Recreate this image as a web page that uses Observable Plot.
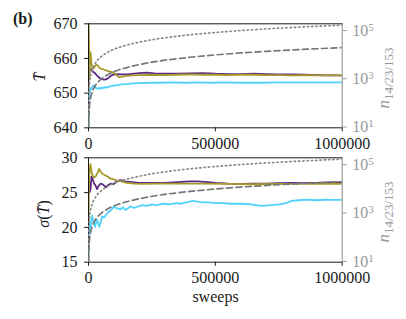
<!DOCTYPE html>
<html><head><meta charset="utf-8">
<script src="https://cdn.jsdelivr.net/npm/d3@7"></script>
<script src="https://cdn.jsdelivr.net/npm/@observablehq/plot@0.6"></script>
<style>
body{margin:0;background:#fff;}
#c{position:relative;width:406px;height:319px;overflow:hidden;font-family:'Liberation Serif';}
#c svg{position:absolute;left:0;}
#c svg text{font-family:'Liberation Serif' !important;}
</style></head><body><div id="c"></div>
<script>
// ---- ticks / labels ----
const sweepsTicks = [0, 500000, 1000000];
const tbarTicks = [640, 650, 660, 670];
const sigmaTicks = [15, 20, 25, 30];
const nTicks = [10, 1000, 100000];
const nTickBase = "10";
const nTickExponents = ["1", "3", "5"];
const panelLabel = "(b)";
const xLabel = "sweeps";
const nLabelMain = "n";
const nLabelSub = "14/23/153";

// ---- top panel: T-bar ----
const tbarPurple = [[0,655],[1500,658],[3000,656.5],[8000,657],[15000,656.3],[25000,655.8],[35000,655],[45000,654.3],[55000,654],[65000,653.9],[75000,654.2],[85000,654.8],[95000,655.3],[110000,655.5],[130000,655.4],[160000,655.5],[200000,655.8],[230000,655.9],[260000,655.7],[300000,655.6],[350000,655.6],[400000,655.7],[450000,655.8],[500000,655.6],[550000,655.5],[600000,655.5],[650000,655.6],[700000,655.5],[750000,655.4],[800000,655.4],[850000,655.3],[900000,655.2],[950000,655.1],[1000000,655.1]];
const tbarOlive = [[0,652],[300,672],[1200,668],[2500,660],[4000,654],[5500,659],[7500,661.8],[9500,660.5],[12000,658.5],[15000,657.3],[19000,657],[24000,657.6],[30000,658.2],[36000,658],[42000,657.4],[50000,657],[58000,656.9],[66000,656.6],[75000,656.4],[85000,656.2],[95000,656],[105000,655.6],[113000,655],[122000,654.6],[135000,654.8],[150000,655],[175000,655.1],[200000,655.2],[250000,655.3],[300000,655.2],[350000,655.3],[400000,655.4],[450000,655.3],[500000,655.3],[550000,655.2],[600000,655.3],[650000,655.3],[700000,655.2],[750000,655.2],[800000,655.1],[850000,655.2],[900000,655.1],[950000,655.1],[1000000,655.1]];
const tbarCyan = [[0,640],[800,644],[1500,646.5],[2500,648.5],[4000,650],[6000,650.8],[9000,651.4],[12000,651.2],[16000,651.8],[20000,652.3],[24000,652.1],[28000,651.6],[33000,651.3],[38000,651.5],[44000,651.2],[50000,651.6],[56000,651.4],[62000,651.7],[70000,651.6],[80000,651.9],[90000,652],[100000,652.2],[115000,652.3],[130000,652.5],[150000,652.6],[175000,652.8],[200000,652.9],[240000,653],[280000,653],[330000,653.1],[380000,653],[430000,653.1],[480000,653],[530000,653.1],[600000,653],[680000,653],[750000,653.1],[820000,653.1],[900000,653.1],[960000,653.1],[1000000,653.1]];

// ---- bottom panel: sigma(T-bar) ----
const sigmaPurple = [[0,28.4],[2000,27],[5000,25.1],[8000,25.5],[12000,27.3],[16000,27],[22000,26.3],[28000,26],[34000,25.5],[40000,26],[48000,26.3],[55000,26.2],[62000,26],[70000,25.8],[78000,26.1],[88000,26.3],[98000,26.2],[110000,26.6],[125000,26.8],[145000,26.6],[170000,26.5],[200000,26.4],[250000,26.4],[300000,26.4],[350000,26.5],[400000,26.6],[430000,26.6],[470000,26.5],[500000,26.4],[550000,26.3],[600000,26.25],[650000,26.3],[700000,26.3],[750000,26.35],[800000,26.4],[850000,26.35],[900000,26.4],[950000,26.45],[1000000,26.45]];
const sigmaOlive = [[0,19],[1500,25],[3000,27],[5000,28.5],[8000,29.1],[12000,28],[16000,27.5],[21000,27.2],[28000,27.3],[35000,27.8],[42000,28.4],[48000,28],[55000,27.7],[65000,27.5],[75000,27.3],[87000,27],[100000,26.9],[115000,26.7],[130000,26.6],[150000,26.4],[180000,26.3],[220000,26.25],[270000,26.3],[350000,26.3],[450000,26.3],[550000,26.25],[650000,26.2],[750000,26.25],[850000,26.25],[950000,26.25],[1000000,26.25]];
const sigmaCyan = [[0,15],[600,17.5],[1500,19.5],[3000,20.6],[5000,19.8],[7000,19.2],[10000,20.8],[14000,21.7],[18000,21],[22000,20.5],[26000,20.1],[30000,20.7],[34000,21.1],[38000,20.6],[43000,20.1],[48000,20.8],[54000,21.6],[60000,21.4],[67000,21.7],[74000,22],[80000,22.3],[87000,22.4],[94000,22.7],[100000,23],[108000,22.8],[116000,22.7],[126000,22.6],[136000,22.9],[145000,22.5],[155000,22.7],[165000,23],[179000,22.8],[195000,23],[210000,23.2],[230000,23.1],[250000,23.3],[270000,23.2],[297000,23.4],[320000,23.3],[345000,23.5],[363000,23.4],[385000,23.6],[410000,23.8],[430000,23.7],[450000,23.6],[475000,23.6],[500000,23.5],[530000,23.5],[560000,23.4],[600000,23.4],[640000,23.3],[680000,23.1],[720000,23.2],[750000,23.3],[780000,23.5],[800000,23.8],[830000,23.9],[860000,24],[900000,23.9],[940000,24],[970000,23.95],[1000000,23.95]];

// ---- right axis: n (same in both panels) ----
const nDotted = [[60,10],[100,17],[200,33],[400,67],[700,117],[1000,170],[2000,330],[3000,500],[5000,830],[7000,1170],[10000,1700],[15000,2500],[20000,3300],[30000,5000],[40000,6700],[55000,9200],[70000,11700],[85000,14200],[100000,16700],[125000,20800],[150000,25000],[200000,33000],[250000,41700],[300000,50000],[400000,67000],[500000,83000],[600000,100000],[700000,117000],[800000,133000],[900000,150000],[1000000,167000]];
const nDashed = [[500,10],[700,14],[1000,20],[2000,39],[3000,59],[5000,98],[7000,137],[10000,196],[15000,294],[20000,390],[30000,590],[40000,780],[55000,1080],[70000,1370],[85000,1670],[100000,1960],[125000,2450],[150000,2900],[200000,3900],[250000,4900],[300000,5900],[400000,7800],[500000,9800],[600000,11800],[700000,13700],[800000,15700],[900000,17600],[1000000,19600]];

const colPurple = "#5c2a86", colOlive = "#a69a2c", colCyan = "#4fd3fc";
const colDashed = "#777777", colDotted = "#888888", colRight = "#999999", colInk = "#1a1a1a";

const W = 406, ML = 88, MR = 64.3;
const FONT = "Liberation Serif";
const FS = 16;
const font = {fontFamily: FONT, fontSize: FS + "px", background: "transparent", overflow: "visible"};
const c = document.getElementById("c");

function lines(series) {
  return series.map(([data, color]) => Plot.line(data, {x: d => d[0], y: d => d[1], stroke: color, strokeWidth: 1.8, clip: true}));
}

function panel(top, height, mt, mb, yDomain, yTicks, series) {
  const main = Plot.plot({
    width: W, height, marginTop: mt, marginBottom: mb, marginLeft: ML, marginRight: MR,
    style: {...font, color: colInk},
    x: {domain: [0, 1000000]},
    y: {domain: yDomain},
    marks: [
      Plot.axisX({ticks: sweepsTicks, tickFormat: d => String(d), tickSize: 4, tickPadding: 5.5, label: null}),
      Plot.axisY({ticks: yTicks, tickSize: 4, tickPadding: 7, label: null}),
      ...lines(series),
      Plot.frame({anchor: "top", stroke: colInk}),
      Plot.frame({anchor: "left", stroke: colInk}),
      Plot.frame({anchor: "bottom", stroke: colInk})
    ]
  });
  main.style.top = top + "px";
  c.appendChild(main);

  const over = Plot.plot({
    width: W, height, marginTop: mt, marginBottom: mb, marginLeft: ML, marginRight: MR,
    style: {...font, color: colRight},
    x: {domain: [0, 1000000], axis: null},
    y: {type: "log", domain: [9.3, 190000]},
    marks: [
      Plot.axisY({anchor: "right", ticks: nTicks, tickSize: 4, tickPadding: 6, label: null, color: colRight}),
      Plot.line(nDotted, {x: d => d[0], y: d => d[1], stroke: colDotted, strokeWidth: 1.7, strokeDasharray: "1.3,3", clip: true}),
      Plot.line(nDashed, {x: d => d[0], y: d => d[1], stroke: colDashed, strokeWidth: 1.7, strokeDasharray: "6,3.5", clip: true}),
      Plot.frame({anchor: "right", stroke: "#8c8c8c"})
    ]
  });
  over.style.top = top + "px";
  c.appendChild(over);
  over.querySelectorAll('g[aria-label="y-axis tick label"] text').forEach((t, i) => {
    t.textContent = nTickBase;
    const s = document.createElementNS("http://www.w3.org/2000/svg", "tspan");
    s.setAttribute("dy", "-0.45em");
    s.setAttribute("font-size", "11px");
    s.textContent = nTickExponents[i];
    t.appendChild(s);
  });
}

panel(0, 150, 23.3, 22.7, [640, 670], tbarTicks, [[tbarPurple, colPurple], [tbarOlive, colOlive], [tbarCyan, colCyan]]);
panel(134, 185, 23.3, 57.3, [15, 30], sigmaTicks, [[sigmaPurple, colPurple], [sigmaOlive, colOlive], [sigmaCyan, colCyan]]);

// ---- text labels ----
const svg = d3.select(c).append("svg").attr("width", W).attr("height", 319)
  .style("top", "0px").style("pointer-events", "none")
  .attr("font-family", FONT).attr("font-size", FS);
svg.append("text").attr("x", 13).attr("y", 24).attr("font-weight", "bold").attr("fill", colInk).text(panelLabel);
svg.append("text").attr("x", 215.5).attr("y", 302).attr("text-anchor", "middle").attr("fill", colInk).text(xLabel);

const tl = svg.append("text").attr("transform", "translate(45,77) rotate(-90)").attr("text-anchor", "middle").attr("fill", colInk);
tl.append("tspan").attr("font-style", "italic").text("T\u0304");
const sl = svg.append("text").attr("transform", "translate(49,214) rotate(-90)").attr("text-anchor", "middle").attr("fill", colInk);
sl.append("tspan").attr("font-style", "italic").text("\u03C3");
sl.append("tspan").text("(");
sl.append("tspan").attr("font-style", "italic").text("T\u0304");
sl.append("tspan").text(")");

[78, 212].forEach(cy => {
  const t = svg.append("text").attr("transform", `translate(389,${cy}) rotate(-90)`).attr("text-anchor", "middle").attr("fill", colRight);
  t.append("tspan").attr("font-style", "italic").attr("font-size", 17).text(nLabelMain);
  t.append("tspan").attr("font-size", 13).attr("dy", 4).text(nLabelSub);
});
</script></body></html>
